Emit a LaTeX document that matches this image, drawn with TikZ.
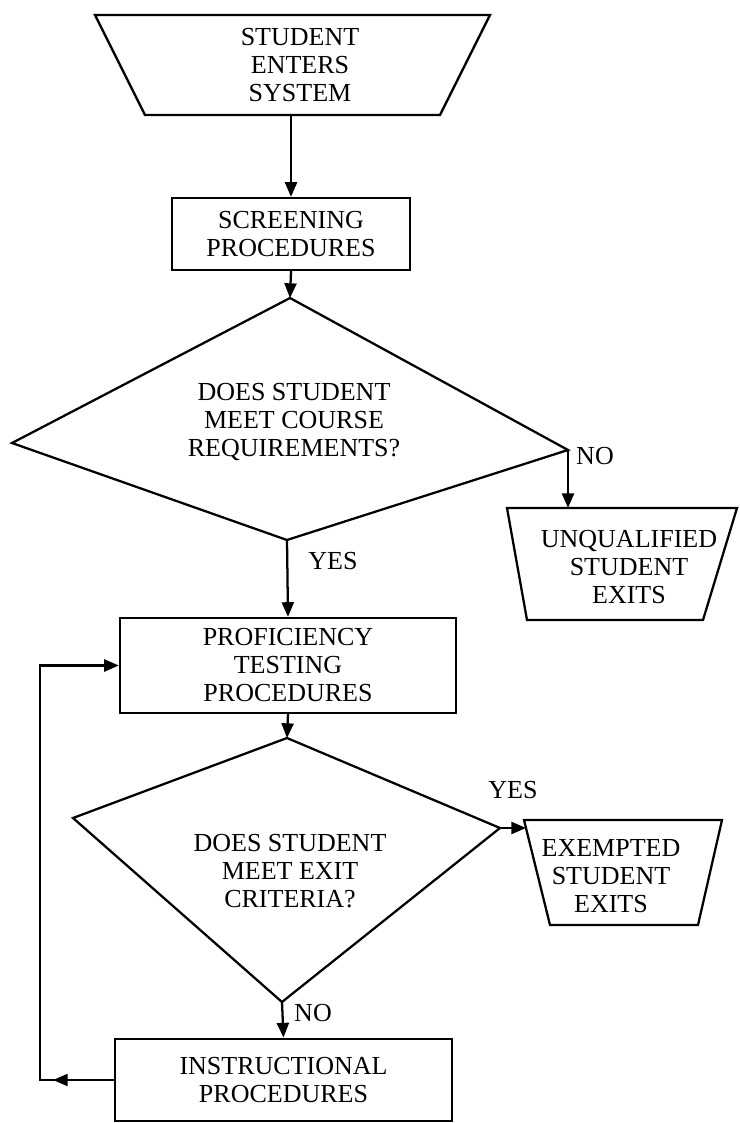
\documentclass[tikz,border=0pt]{standalone}
\usepackage{fontspec}
\setmainfont{Liberation Serif}
\usetikzlibrary{arrows.meta}
\begin{document}
\begin{tikzpicture}[x=0.75pt,y=-0.75pt,
  line width=1.7pt, line join=miter,
  every node/.style={font=\fontsize{19.5}{21}\selectfont, align=center, inner sep=0pt},
  flow/.style={draw, line width=1.7pt, -{Triangle[length=11pt,width=9pt]}},
  line/.style={draw, line width=1.7pt},
  procbox/.style={draw, rectangle, line width=1.7pt},
  outline/.style={draw, line width=1.7pt}]
\useasboundingbox (0,0) rectangle (739,1123);

% entry terminal
\coordinate (t1tl) at (95,15);  \coordinate (t1tr) at (490,15);
\coordinate (t1br) at (440,115); \coordinate (t1bl) at (145,115);
\coordinate (t1b) at (291,115);
\draw[outline] (t1tl) -- (t1tr) -- (t1br) -- (t1bl) -- cycle;
\node (t1) at (300,65) {STUDENT\\ENTERS\\SYSTEM};

% screening
\node[procbox, minimum width=178.5pt, minimum height=54pt] (scr) at (291,234)
  {SCREENING\\PROCEDURES};

% first decision
\coordinate (d1t) at (290,298); \coordinate (d1l) at (12,443);
\coordinate (d1r) at (568,450); \coordinate (d1b) at (287,540);
\draw[outline] (d1t) -- (d1r) -- (d1b) -- (d1l) -- cycle;
\node (d1) at (294,422) {DOES STUDENT\\MEET COURSE\\REQUIREMENTS?};

% unqualified exit
\coordinate (utl) at (507,508); \coordinate (utr) at (737,508);
\coordinate (ubr) at (703,620); \coordinate (ubl) at (527,620);
\coordinate (ut) at (568,508);
\draw[outline] (utl) -- (utr) -- (ubr) -- (ubl) -- cycle;
\node (u) at (629,567) {UNQUALIFIED\\STUDENT\\EXITS};

% proficiency testing
\node[procbox, minimum width=252pt, minimum height=71.25pt] (prof) at (288,665.5)
  {PROFICIENCY\\TESTING\\PROCEDURES};

% second decision
\coordinate (d2t) at (287,738); \coordinate (d2l) at (73,818);
\coordinate (d2r) at (500,828); \coordinate (d2b) at (282,1002);
\draw[outline] (d2t) -- (d2r) -- (d2b) -- (d2l) -- cycle;
\node (d2) at (290,871) {DOES STUDENT\\MEET EXIT\\CRITERIA?};

% exempted exit
\coordinate (etl) at (524,820); \coordinate (etr) at (722,820);
\coordinate (ebr) at (698,925); \coordinate (ebl) at (550,925);
\coordinate (el) at (526,828);
\draw[outline] (etl) -- (etr) -- (ebr) -- (ebl) -- cycle;
\node (e) at (611,876) {EXEMPTED\\STUDENT\\EXITS};

% instruction
\node[procbox, minimum width=252.75pt, minimum height=62pt] (ins) at (283.5,1080)
  {INSTRUCTIONAL\\PROCEDURES};

% connectors
\path[flow] (t1b) -- (scr.north);
\path[flow] (scr.south) -- (d1t);
\path[flow] (d1b) -- (prof.north);
\path[flow] (d1r) -- (ut);
\path[flow] (prof.south) -- (d2t);
\path[flow] (d2r) -- (el);
\path[flow] (d2b) -- (ins.north);

% loop back from instruction to testing, with a mid-line head pointing left
\coordinate (lc) at (40,1080);
\coordinate (ltip) at (53,1080);
\path[flow] (ins.west) -- (lc) |- (prof.west);
\path[flow] (ins.west) -- (ltip);

% branch labels
\node (no1) at (595,456) {NO};
\node (yes1) at (333,561) {YES};
\node (yes2) at (513,790) {YES};
\node (no2) at (313,1013) {NO};
\end{tikzpicture}
\end{document}
